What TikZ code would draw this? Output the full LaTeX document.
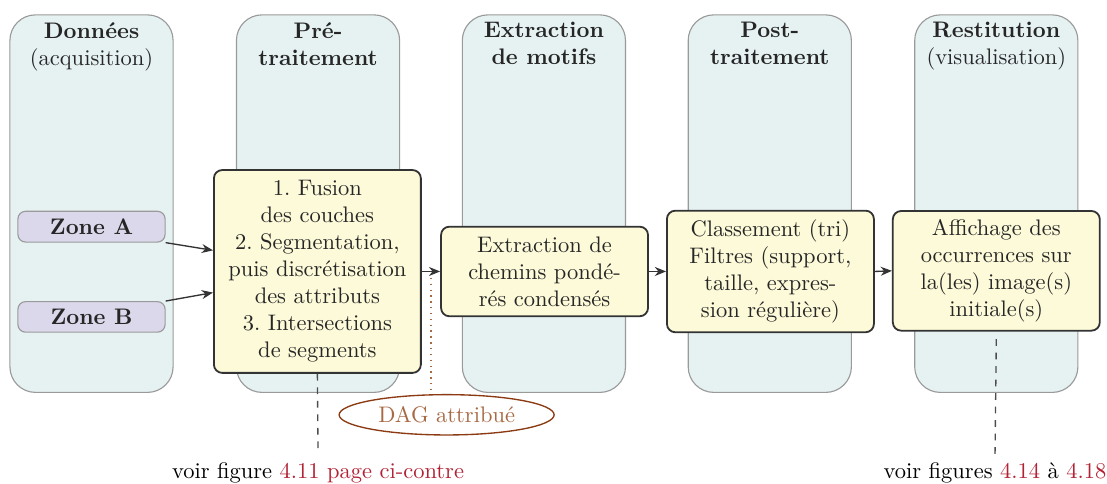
\documentclass[tikz,border=0pt]{standalone}
\usepackage{fontspec}
\usepackage{xcolor}
\usepackage{tikz}
\usetikzlibrary{arrows.meta, shapes.geometric, positioning}
\frenchspacing

\definecolor{fondcolonne}{HTML}{E6F2F2}
\definecolor{bordcolonne}{HTML}{9A9A9A}
\definecolor{fondzone}{HTML}{DCD8EB}
\definecolor{fondetape}{HTML}{FDFAD9}
\definecolor{brun}{HTML}{8B3A12}
\definecolor{brunclair}{HTML}{A86A45}
\definecolor{lien}{HTML}{B22234}

\tikzset{
  colonne/.style={draw=bordcolonne, fill=fondcolonne, line width=0.5pt, rounded corners=0.4cm, minimum width=2.55cm, minimum height=5.9cm},
  titre/.style={font=\bfseries, align=center, text=black!85, anchor=north},
  zone/.style={draw=bordcolonne, fill=fondzone, line width=0.5pt, rounded corners=0.12cm, minimum width=2.3cm, minimum height=0.47cm, font=\bfseries, text=black!85},
  etape/.style={draw=black!80, fill=fondetape, line width=0.8pt, rounded corners=0.13cm, text width=3cm, align=center, text=black!85},
  fleche/.style={-{Stealth[length=5pt,width=4pt]}, black!80, line width=0.6pt},
  renvoi/.style={dashed, black!70, line width=0.6pt}
}

\begin{document}
\begin{tikzpicture}
    \useasboundingbox (0,0) rectangle (17.3,7.5625);

    % Colonnes
    \node[colonne] (c1) at (1.43,4.38) {};
    \node[colonne] (c2) at (4.97,4.38) {};
    \node[colonne] (c3) at (8.50,4.38) {};
    \node[colonne] (c4) at (12.03,4.38) {};
    \node[colonne] (c5) at (15.57,4.38) {};

    % Titres des colonnes
    \node[titre] (t1) at (c1.north) {Données\\{\normalfont (acquisition)}};
    \node[titre] (t2) at (c2.north) {Pré-\\traitement};
    \node[titre] (t3) at (c3.north) {Extraction\\de motifs};
    \node[titre] (t4) at (c4.north) {Post-\\traitement};
    \node[titre] (t5) at (c5.north) {Restitution\\{\normalfont (visualisation)}};

    % Zones
    \node[zone] (za) at (1.43,4.02) {Zone A};
    \node[zone] (zb) at (1.43,2.61) {Zone B};

    % Etapes
    \node[etape, minimum height=3.17cm] (pre) at (4.96,3.32)
        {1. Fusion\\des couches\\2. Segmentation,\\puis discrétisation\\des attributs\\3. Intersections\\de segments};
    \node[etape, minimum height=1.4cm] (ext) at (8.51,3.32)
        {Extraction de\\chemins pondé-\\rés condensés};
    \node[etape, minimum height=1.9cm] (post) at (12.04,3.32)
        {Classement (tri)\\Filtres (support,\\taille, expres-\\sion régulière)};
    \node[etape, minimum height=1.87cm] (aff) at (15.57,3.33)
        {Affichage des\\occurrences sur\\la(les) image(s)\\initiale(s)};

    % Fleches
    \draw[fleche] (za.south east) -- ([yshift=0.33cm]pre.west);
    \draw[fleche] (zb.north east) -- ([yshift=-0.33cm]pre.west);
    \draw[fleche] (pre.east) -- coordinate[pos=0.5] (m) (ext.west);
    \draw[fleche] (ext.east) -- (post.west);
    \draw[fleche] (post.east) -- (aff.west);

    % DAG
    \node[ellipse, draw=brun, line width=0.6pt, minimum width=3.36cm, minimum height=0.63cm, inner sep=0pt, text=brunclair] (dag) at (6.98,1.08) {DAG attribué};
    \draw[brunclair, dotted, line width=0.6pt] ([yshift=-0.1cm]m) -- ([yshift=0.05cm]m |- dag.north);

    % Renvois
    \node[anchor=base] (v1) at (4.97,0.09) {voir figure \textcolor{lien}{4.11 page ci-contre}};
    \node[anchor=base] (v2) at (15.55,0.09) {voir figures \textcolor{lien}{4.14} à \textcolor{lien}{4.18}};
    \draw[renvoi] (pre.south) -- (v1.north);
    \draw[renvoi] ([yshift=-0.12cm]aff.south) -- (v2.north);
\end{tikzpicture}
\end{document}
